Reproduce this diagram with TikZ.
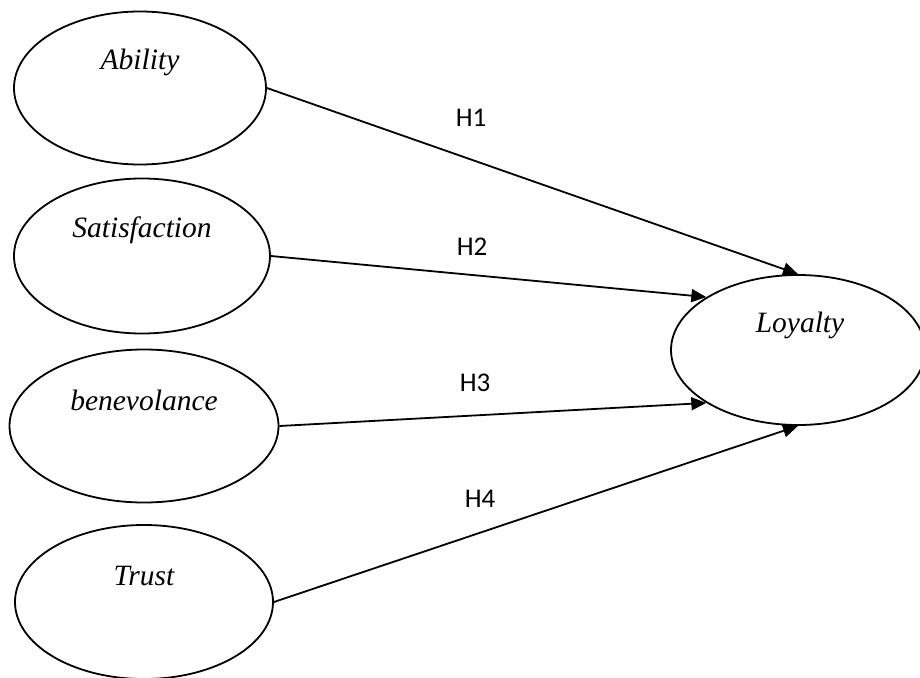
\documentclass[tikz,border=0pt]{standalone}
\usepackage{fontspec}
\setmainfont{Liberation Serif}
\newfontfamily\calib{Carlito}
\usetikzlibrary{shapes.geometric,arrows.meta}
\begin{document}
\begin{tikzpicture}[x=1pt,y=-1pt,
  oval/.style={draw, ellipse, line width=1.8pt, inner sep=0pt},
  ovaltext/.style={font=\fontsize{29.5}{33}\selectfont\itshape, inner sep=0pt},
  hlabel/.style={font=\calib\fontsize{27}{31}\selectfont, inner sep=0pt},
  link/.style={line width=1.8pt, -{Triangle[length=15pt,width=13pt]}}]
\useasboundingbox (0,0) rectangle (920,677);
\node[oval, minimum width=252pt, minimum height=153pt] (ab) at (140,88) {};
\node[oval, minimum width=256pt, minimum height=155pt] (sa) at (142,256) {};
\node[oval, minimum width=269pt, minimum height=153pt] (be) at (144,426) {};
\node[oval, minimum width=258pt, minimum height=154pt] (tr) at (144,602) {};
\node[oval, minimum width=254pt, minimum height=150pt] (lo) at (798,350) {};
\node[ovaltext] (abt) at (140,62) {Ability};
\node[ovaltext] (sat) at (142,230) {Satisfaction};
\node[ovaltext] (bet) at (144,400) {benevolance};
\node[ovaltext] (trt) at (144,576) {Trust};
\node[ovaltext] (lot) at (800,325) {Loyalty};
\draw[link] (ab.east) -- (lo.north);
\draw[link] (sa.east) -- (lo.150);
\draw[link] (be.east) -- (lo.210);
\draw[link] (tr.east) -- (lo.south);
\node[hlabel] (h1) at (471,118) {H1};
\node[hlabel] (h2) at (472,247) {H2};
\node[hlabel] (h3) at (475,383) {H3};
\node[hlabel] (h4) at (480,499) {H4};
\end{tikzpicture}
\end{document}
